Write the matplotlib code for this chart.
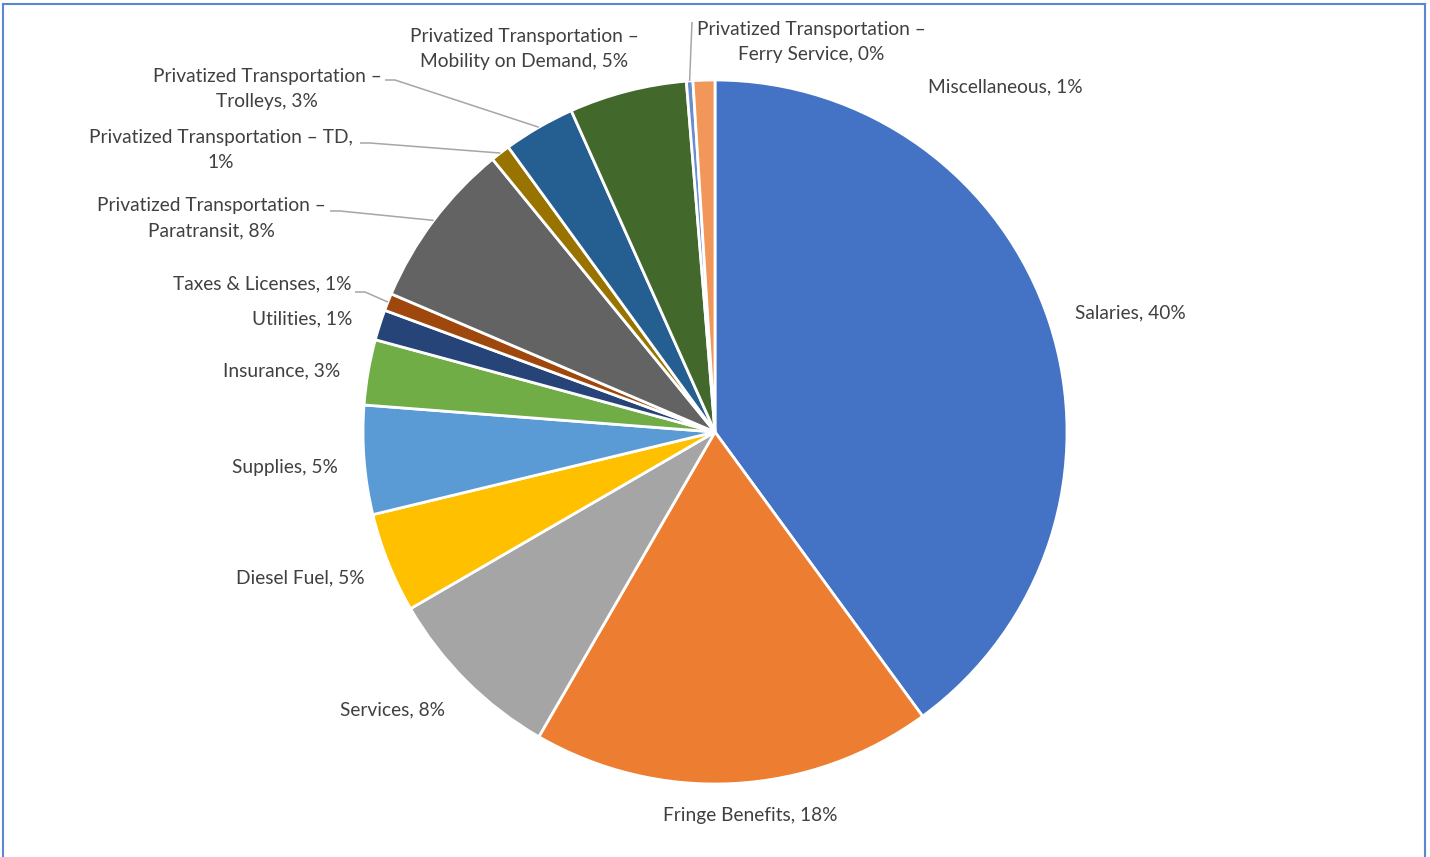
import numpy as np
import matplotlib.pyplot as plt
from matplotlib.lines import Line2D

# Datos (participación de cada rubro, en %)
categorias = [
    "Salaries", "Fringe Benefits", "Services", "Diesel Fuel", "Supplies",
    "Insurance", "Utilities", "Taxes & Licenses",
    "Privatized Transportation –\nParatransit",
    "Privatized Transportation – TD,\n",
    "Privatized Transportation –\nTrolleys",
    "Privatized Transportation –\nMobility on Demand",
    "Privatized Transportation –\nFerry Service",
    "Miscellaneous",
]
valores = [40.0, 18.4, 8.3, 4.6, 5.0, 3.0, 1.4, 0.8, 7.7, 0.9, 3.3, 5.4, 0.3, 1.0]
colores = ["#4472C4", "#ED7D31", "#A5A5A5", "#FFC000", "#5B9BD5", "#70AD47",
           "#264478", "#9E480E", "#636363", "#997300", "#255E91", "#43682B",
           "#698ED0", "#F1975A"]

# Layout (pixeles de la imagen, y hacia abajo)
W, H = 1430, 857
CX, CY, R = 715, 432, 352
pos_etiquetas = [(1130, 313), (750, 815), (393, 710), (300, 578), (285, 467),
                 (282, 371), (302, 319), (262, 284), (211, 218), (221, 150),
                 (267, 89), (524, 49), (811, 42), (1005, 87)]
inicio_guias = {7: (355, 292), 8: (330, 211), 9: (360, 143), 10: (385, 80),
                12: (692, 22)}

fig = plt.figure(figsize=(W / 100, H / 100), dpi=100)
ax = fig.add_axes([0, 0, 1, 1])
ax.set_xlim(0, W)
ax.set_ylim(0, H)
ax.set_aspect("equal")
ax.axis("off")

wedges, _ = ax.pie(valores, colors=colores, startangle=90, counterclock=False,
                   center=(CX, H - CY), radius=R,
                   wedgeprops=dict(edgecolor="white", linewidth=2))
ax.set_xlim(0, W)
ax.set_ylim(0, H)

total = sum(valores)
for i, (nombre, v) in enumerate(zip(categorias, valores)):
    pct = f"{v / total:.0%}"
    if nombre.endswith("\n"):
        texto = nombre + pct
    else:
        texto = f"{nombre}, {pct}"
    x, y = pos_etiquetas[i]
    ax.text(x, H - y, texto, ha="center", va="center", multialignment="center",
            fontsize=13.8, color="#404040", family="Lato", linespacing=1.6)

    if i in inicio_guias:
        w = wedges[i]
        mid = np.deg2rad((w.theta1 + w.theta2) / 2)
        px = CX + R * np.cos(mid)
        py = H - CY + R * np.sin(mid)
        x0, y0 = inicio_guias[i]
        if i == 12:
            xs, ys = [x0, px], [H - y0, py]
        else:
            xs, ys = [x0, x0 + 10, px], [H - y0, H - y0, py]
        ax.plot(xs, ys, color="#A6A6A6", lw=1.1, solid_capstyle="butt")

# marco azul del gráfico
for xs, ys in [([3, 1425], [H - 4, H - 4]), ([3, 3], [0, H - 4]),
               ([1425, 1425], [0, H - 4])]:
    ax.add_line(Line2D(xs, ys, color="#5B87D0", lw=1.5))

fig.savefig("out.png", dpi=100)
